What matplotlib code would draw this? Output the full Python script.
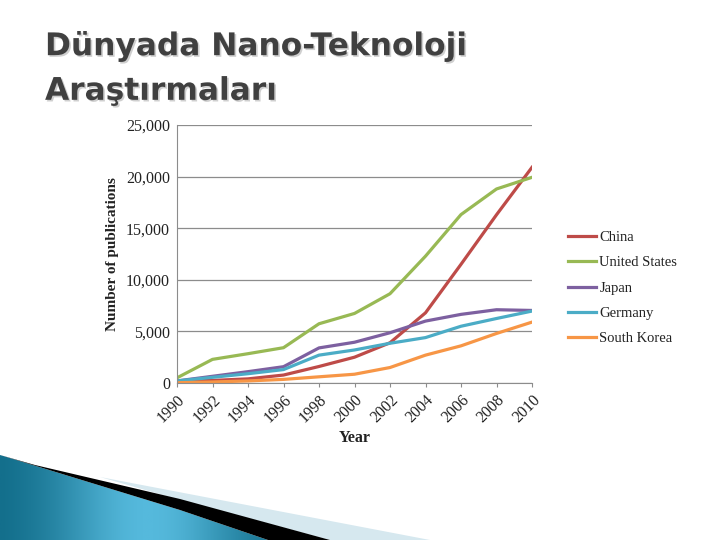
import numpy as np
import matplotlib.pyplot as plt
import matplotlib.patheffects as pe
from matplotlib.patches import Polygon
from matplotlib.ticker import FuncFormatter
from matplotlib.colors import LinearSegmentedColormap

# data
years = [1990, 1992, 1994, 1996, 1998, 2000, 2002, 2004, 2006, 2008, 2010]
china = [200, 250, 400, 770, 1600, 2500, 3900, 6800, 11500, 16300, 20900]
usa = [500, 2290, 2840, 3420, 5740, 6740, 8650, 12290, 16320, 18800, 19930]
japan = [200, 650, 1100, 1580, 3400, 3950, 4870, 6000, 6650, 7100, 7030]
germany = [200, 550, 900, 1300, 2700, 3200, 3850, 4400, 5500, 6250, 6970]
korea = [30, 100, 200, 350, 600, 850, 1500, 2700, 3600, 4800, 5900]

names = ["China", "United States", "Japan", "Germany", "South Korea"]
series = [china, usa, japan, germany, korea]
colors = ["#be4b48", "#98b954", "#7d60a0", "#4bacc6", "#f79646"]

serif = "Liberation Serif"

fig = plt.figure(figsize=(7.2, 5.4), dpi=100)

# background decoration in pixel coords
bg = fig.add_axes([0, 0, 1, 1], zorder=0)
bg.set_xlim(0, 720)
bg.set_ylim(540, 0)
bg.axis("off")
blue = Polygon([(0, 455), (180, 510), (268, 540), (0, 540)], closed=True,
               facecolor="none", edgecolor="none")
bg.add_patch(blue)
grad = np.linspace(0, 1, 256)
grad = np.exp(-((grad - 0.55) / 0.35) ** 2)
grad = np.vstack([grad, grad])
cm = LinearSegmentedColormap.from_list("b", ["#136f8c", "#55b9dc"])
im = bg.imshow(grad, cmap=cm, extent=[0, 270, 540, 450], aspect="auto")
im.set_clip_path(blue)
bg.add_patch(Polygon([(100, 477), (430, 540), (330, 540), (180, 500)],
                     closed=True, facecolor="#d6e8ef", edgecolor="none"))
bg.add_patch(Polygon([(0, 455), (35, 465), (180, 499), (330, 540), (268, 540),
                      (180, 510)], closed=True, facecolor="black", edgecolor="none"))

title = "Dünyada Nano-Teknoloji\nAraştırmaları"
fig.text(45, 540 - 69, title, transform=None, fontsize=22.5, color="#404040",
         family="DejaVu Sans", fontweight="bold", va="center", ha="left",
         linespacing=1.68,
         path_effects=[pe.withSimplePatchShadow(offset=(1.2, -1.2),
                                                shadow_rgbFace="#b0b0b0",
                                                alpha=0.6)])

ax = fig.add_axes([177 / 720, 1 - 383 / 540, 355 / 720, 258 / 540], zorder=1)
ax.patch.set_alpha(0)
for name, vals, c in zip(names, series, colors):
    ax.plot(years, vals, color=c, lw=2.3, label=name)

ax.set_xlim(1990, 2010)
ax.set_ylim(0, 25000)
ax.set_xticks(years)
ax.set_yticks(range(0, 25001, 5000))
ax.yaxis.set_major_formatter(FuncFormatter(lambda v, p: f"{int(v):,}"))
ax.grid(axis="y", color="#8c8c8c", lw=0.9)
ax.set_axisbelow(True)
for s in ["top", "right"]:
    ax.spines[s].set_visible(False)
for s in ["left", "bottom"]:
    ax.spines[s].set_color("#8c8c8c")
ax.tick_params(axis="both", colors="#8c8c8c", length=3, labelcolor="#222222")
ax.tick_params(axis="y", length=0, pad=5)
for lab in ax.get_yticklabels():
    lab.set_family(serif)
    lab.set_fontsize(11.5)
for lab in ax.get_xticklabels():
    lab.set_family(serif)
    lab.set_fontsize(11.5)
    lab.set_rotation(45)
    lab.set_ha("right")
    lab.set_rotation_mode("anchor")

ax.set_ylabel("Number of publications", family=serif, fontsize=11,
              fontweight="bold", color="#222222", labelpad=5)
ax.set_xlabel("Year", family=serif, fontsize=11.5, fontweight="bold",
              color="#222222", labelpad=3)

ax.legend(loc="center left", bbox_to_anchor=(1.085, 0.368), frameon=False,
          prop={"family": serif, "size": 10.5}, handlelength=1.9,
          handletextpad=0.25, labelspacing=0.82, labelcolor="#222222",
          borderaxespad=0)

fig.savefig("out.png", dpi=100)
